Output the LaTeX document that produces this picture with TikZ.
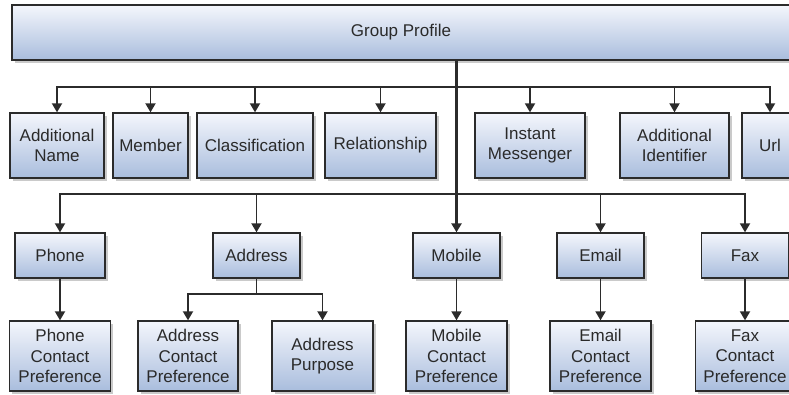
\documentclass[tikz,border=0pt]{standalone}
\usepackage{fontspec}
\setmainfont{Liberation Sans}
\usepackage{xcolor}
\usetikzlibrary{arrows.meta,shadows}
\definecolor{BoxTop}{HTML}{F4F6FC}
\definecolor{BoxBottom}{HTML}{A9BDDD}
\definecolor{EdgeGray}{HTML}{2B2B2B}
\definecolor{TextGray}{HTML}{2A2A2A}

\begin{document}
\begin{tikzpicture}[
  x=1pt,y=-1pt,
  box/.style={draw=EdgeGray,line width=1.3pt,top color=BoxTop,bottom color=BoxBottom,
    drop shadow={shadow xshift=2.5pt,shadow yshift=-2.5pt,fill=black!35,opacity=0.6},
    inner sep=0pt,align=center,text=TextGray,font=\fontsize{17}{20.7}\selectfont},
  link/.style={draw=EdgeGray,line width=1.8pt},
  arr/.style={link,-{Triangle[length=9pt,width=10pt]}},
  trunk/.style={draw=EdgeGray,line width=3pt,-{Triangle[length=9pt,width=10pt]}}
]
\useasboundingbox (0,0) rectangle (789,394);
% top
\node[box,minimum width=778pt,minimum height=55pt] (gp) at (401,32.5) {Group Profile};
% first row
\node[box,minimum width=94pt,minimum height=65pt] (addname) at (57,145.5) {Additional\\Name};
\node[box,minimum width=75pt,minimum height=65pt] (member) at (150.5,145.5) {Member};
\node[box,minimum width=116pt,minimum height=65pt] (classif) at (255,145.5) {Classification};
\node[box,minimum width=111pt,minimum height=65pt] (relation) at (380.5,145.5) {Relationship};
\node[box,minimum width=110pt,minimum height=65pt] (instant) at (530,145.5) {Instant\\Messenger};
\node[box,minimum width=109pt,minimum height=65pt] (addid) at (674.5,145.5) {Additional\\Identifier};
\node[box,minimum width=56pt,minimum height=65pt] (url) at (770,145.5) {Url};
% second row
\node[box,minimum width=90pt,minimum height=45pt] (phone) at (60,255.5) {Phone};
\node[box,minimum width=87pt,minimum height=45pt] (address) at (256.5,255.5) {Address};
\node[box,minimum width=87pt,minimum height=45pt] (mobile) at (456.5,255.5) {Mobile};
\node[box,minimum width=87pt,minimum height=45pt] (email) at (600.5,255.5) {Email};
\node[box,minimum width=87pt,minimum height=45pt] (fax) at (745,255.5) {Fax};
% third row
\node[box,minimum width=101pt,minimum height=70pt] (phonecp) at (60,356) {Phone\\Contact\\Preference};
\node[box,minimum width=100pt,minimum height=70pt] (addrcp) at (188,356) {Address\\Contact\\Preference};
\node[box,minimum width=101pt,minimum height=70pt] (addrpurp) at (322.5,356) {Address\\Purpose};
\node[box,minimum width=101pt,minimum height=70pt] (mobilecp) at (456.5,356) {Mobile\\Contact\\Preference};
\node[box,minimum width=101pt,minimum height=70pt] (emailcp) at (600.5,356) {Email\\Contact\\Preference};
\node[box,minimum width=99pt,minimum height=70pt] (faxcp) at (745,356) {Fax\\Contact\\Preference};
% buses
\coordinate (bus1) at (456.5,87);
\coordinate (bus2) at (456.5,194);
\coordinate (abus) at (256.5,294);
\foreach \n in {addname,member,classif,relation,instant,addid,url}
  \draw[arr] (bus1) -| (\n);
\foreach \n in {phone,address,email,fax}
  \draw[arr] (bus2) -| (\n);
\draw[trunk] (gp.south -| mobile) -- (mobile);
\draw[link] (address) -- (abus);
\draw[arr] (abus) -| (addrcp);
\draw[arr] (abus) -| (addrpurp);
\foreach \a/\b in {phone/phonecp,mobile/mobilecp,email/emailcp,fax/faxcp}
  \draw[arr] (\a) -- (\a |- \b.north);
\end{tikzpicture}
\end{document}
